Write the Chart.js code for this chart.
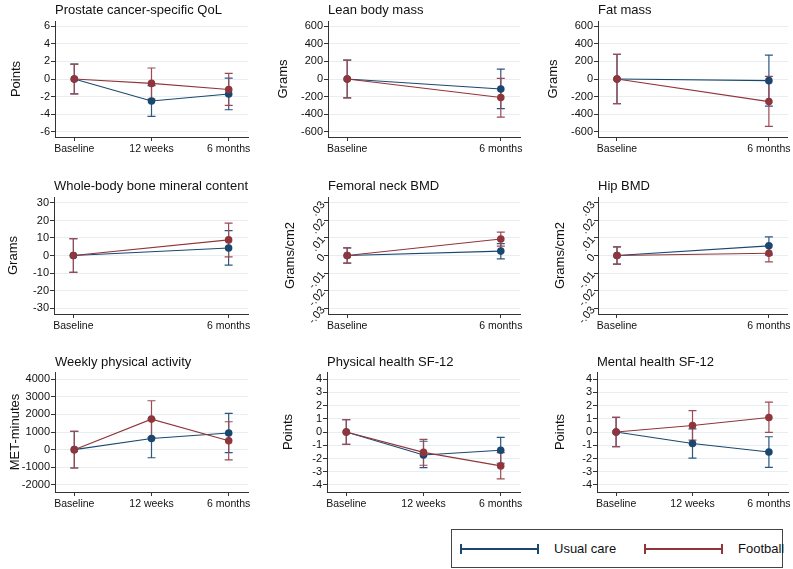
<!DOCTYPE html>
<html>
<head>
<meta charset="utf-8">
<script src="https://cdn.jsdelivr.net/npm/chart.js@4.4.0/dist/chart.umd.min.js"></script>
<style>
  body { margin: 0; background: #fff; font-family: "Liberation Sans", Arial, sans-serif; }
  #wrap { position: relative; width: 793px; height: 569px; overflow: hidden; }
  canvas { position: absolute; }
  .legend { position: absolute; left: 451px; top: 529px; width: 332px; height: 39px;
            border: 1px solid #444; box-sizing: border-box; }
  .sym { position: absolute; top: 18px; width: 79px; height: 0; border-top: 2px solid; }
  .sym::before, .sym::after { content: ""; position: absolute; top: -6px; width: 0; height: 10px; border-left: 2px solid; }
  .sym::before { left: 0; }
  .sym::after { right: 0; }
  .lab { position: absolute; top: 11px; font-size: 13px; color: #111; }
</style>
</head>
<body>
<div id="wrap">
  <canvas id="c1" width="263" height="175" style="left:0;top:0"></canvas>
  <canvas id="c2" width="263" height="175" style="left:265px;top:0"></canvas>
  <canvas id="c3" width="263" height="175" style="left:530px;top:0"></canvas>
  <canvas id="c4" width="263" height="175" style="left:0;top:175px"></canvas>
  <canvas id="c5" width="263" height="175" style="left:265px;top:175px"></canvas>
  <canvas id="c6" width="263" height="175" style="left:530px;top:175px"></canvas>
  <canvas id="c7" width="263" height="175" style="left:0;top:350px"></canvas>
  <canvas id="c8" width="263" height="175" style="left:265px;top:350px"></canvas>
  <canvas id="c9" width="263" height="175" style="left:530px;top:350px"></canvas>
  <div class="legend">
    <div class="sym" style="left:8px;color:#1a476f"></div>
    <div class="lab" style="left:102px">Usual care</div>
    <div class="sym" style="left:192px;color:#90353b"></div>
    <div class="lab" style="left:286px">Football</div>
  </div>
</div>
<script>
const timeLabels3 = ['Baseline', '12 weeks', '6 months'];
const timeLabels2 = ['Baseline', '6 months'];

// Prostate cancer-specific QoL
const qolUsual = [0, -2.5, -1.7];
const qolUsualLo = [-1.7, -4.25, -3.5];
const qolUsualHi = [1.7, -0.75, 0.1];
const qolFootball = [0, -0.5, -1.2];
const qolFootballLo = [-1.7, -2.3, -3.0];
const qolFootballHi = [1.7, 1.25, 0.65];

// Lean body mass
const leanUsual = [0, -113];
const leanUsualLo = [-215, -336];
const leanUsualHi = [215, 113];
const leanFootball = [0, -211];
const leanFootballLo = [-215, -434];
const leanFootballHi = [215, 8];

// Fat mass
const fatUsual = [0, -19];
const fatUsualLo = [-280, -309];
const fatUsualHi = [280, 272];
const fatFootball = [0, -257];
const fatFootballLo = [-280, -540];
const fatFootballHi = [280, 30];

// Whole-body bone mineral content
const bmcUsual = [0, 4.3];
const bmcUsualLo = [-9.6, -5.5];
const bmcUsualHi = [9.6, 14.2];
const bmcFootball = [0, 8.9];
const bmcFootballLo = [-9.6, -0.75];
const bmcFootballHi = [9.6, 18.5];

// Femoral neck BMD
const femUsual = [0, 0.0025];
const femUsualLo = [-0.0043, -0.0019];
const femUsualHi = [0.0043, 0.0068];
const femFootball = [0, 0.0094];
const femFootballLo = [-0.0043, 0.0053];
const femFootballHi = [0.0043, 0.0134];

// Hip BMD
const hipUsual = [0, 0.0055];
const hipUsualLo = [-0.0049, 0.0004];
const hipUsualHi = [0.0049, 0.0106];
const hipFootball = [0, 0.0013];
const hipFootballLo = [-0.0049, -0.0036];
const hipFootballHi = [0.0049, 0.006];

// Weekly physical activity
const paUsual = [0, 635, 940];
const paUsualLo = [-1040, -460, -170];
const paUsualHi = [1040, 1730, 2060];
const paFootball = [0, 1730, 500];
const paFootballLo = [-1040, 690, -580];
const paFootballHi = [1040, 2770, 1580];

// Physical health SF-12
const physUsual = [0, -1.74, -1.38];
const physUsualLo = [-0.93, -2.69, -2.36];
const physUsualHi = [0.93, -0.7, -0.41];
const physFootball = [0, -1.54, -2.56];
const physFootballLo = [-0.93, -2.51, -3.54];
const physFootballHi = [0.93, -0.56, -1.56];

// Mental health SF-12
const mentUsual = [0, -0.87, -1.51];
const mentUsualLo = [-1.1, -1.97, -2.67];
const mentUsualHi = [1.1, 0.23, -0.36];
const mentFootball = [0, 0.49, 1.1];
const mentFootballLo = [-1.1, -0.62, -0.03];
const mentFootballHi = [1.1, 1.62, 2.26];

// y tick values and labels
const ticksQol = [-6, -4, -2, 0, 2, 4, 6];
const ticksGrams = [-600, -400, -200, 0, 200, 400, 600];
const ticksBmc = [-30, -20, -10, 0, 10, 20, 30];
const ticksBmd = [-0.03, -0.02, -0.01, 0, 0.01, 0.02, 0.03];
const tickLabelsBmd = ['-.03', '-.02', '-.01', '0', '.01', '.02', '.03'];
const ticksPa = [-2000, -1000, 0, 1000, 2000, 3000, 4000];
const ticksSf = [-4, -3, -2, -1, 0, 1, 2, 3, 4];

const blue = '#1a476f';
const red = '#90353b';
const font = '"Liberation Sans", Arial, sans-serif';

// draws the confidence interval caps through the chart scales
const errorBars = {
  id: 'errorBars',
  beforeDatasetsDraw(chart) {
    const ctx = chart.ctx;
    const xs = chart.scales.x, ys = chart.scales.y;
    chart.data.datasets.forEach(ds => {
      ctx.save();
      ctx.strokeStyle = ds.barColor;
      ctx.lineWidth = 1.2;
      ds.data.forEach((pt, i) => {
        const x = xs.getPixelForValue(pt.x);
        const y1 = ys.getPixelForValue(ds.lo[i]);
        const y2 = ys.getPixelForValue(ds.hi[i]);
        ctx.beginPath();
        ctx.moveTo(x, y1); ctx.lineTo(x, y2);
        ctx.moveTo(x - 4, y1); ctx.lineTo(x + 4, y1);
        ctx.moveTo(x - 4, y2); ctx.lineTo(x + 4, y2);
        ctx.stroke();
      });
      ctx.restore();
    });
  }
};

// per row: title padding and bottom padding
const rows = [
  { tTop: 2.2, tBot: 3.2, bottom: 18 },
  { tTop: 3.2, tBot: 3.2, bottom: 16 },
  { tTop: 4.2, tBot: 2.2, bottom: 13 }
];

function panel(id, row, title, yTitle, labels, usual, uLo, uHi, foot, fLo, fHi,
               yMin, yMax, yTicks, yLabels, axisX, right, yTitleX, rot) {
  const n = labels.length;
  const off = n === 3 ? 0.25 : 0.125;
  const padLeft = yTitleX - 7.8;
  const r = rows[row];
  new Chart(document.getElementById(id), {
    type: 'line',
    data: {
      datasets: [
        { label: 'Usual care', data: usual.map((v, i) => ({ x: i, y: v })), lo: uLo, hi: uHi,
          borderColor: blue, backgroundColor: blue, barColor: '#2f5680', borderWidth: 1.1,
          pointRadius: 3.8, pointBorderWidth: 0, order: 1 },
        { label: 'Football', data: foot.map((v, i) => ({ x: i, y: v })), lo: fLo, hi: fHi,
          borderColor: red, backgroundColor: red, barColor: '#9c4a55', borderWidth: 1.1,
          pointRadius: 3.8, pointBorderWidth: 0, order: 0 }
      ]
    },
    options: {
      responsive: false,
      animation: false,
      devicePixelRatio: 1,
      layout: { padding: { left: padLeft, right: 263 - right, top: 0, bottom: r.bottom } },
      plugins: {
        legend: { display: false },
        tooltip: { enabled: false },
        title: { display: true, text: title, align: 'start', fullSize: false, color: '#111',
                 font: { family: font, size: 13, weight: 'normal' },
                 padding: { top: r.tTop, bottom: r.tBot } }
      },
      scales: {
        x: {
          type: 'linear', min: -off, max: n - 1 + off,
          afterBuildTicks: s => { s.ticks = labels.map((l, i) => ({ value: i })); },
          afterFit: s => { s.height = 20; },
          ticks: { autoSkip: false, maxRotation: 0, padding: 2, color: '#111',
                   font: { family: font, size: 10.5 }, callback: v => labels[v] },
          grid: { drawOnChartArea: false, tickLength: 4, tickColor: '#333' },
          border: { color: '#333', width: 1 }
        },
        y: {
          min: yMin, max: yMax,
          afterBuildTicks: s => { s.ticks = yTicks.map(v => ({ value: v })); },
          afterFit: s => { s.width = axisX - padLeft; },
          ticks: { autoSkip: false, padding: 1, color: '#111', minRotation: rot, maxRotation: rot,
                   font: { family: font, size: 11 },
                   callback: (v, i) => yLabels[i] },
          grid: { color: '#e6eef1', tickLength: 4, tickColor: '#333' },
          border: { color: '#333', width: 1 },
          title: { display: true, text: yTitle, color: '#111', padding: 0,
                   font: { family: font, size: 13 } }
        }
      }
    },
    plugins: [errorBars]
  });
}

panel('c1', 0, 'Prostate cancer-specific QoL', 'Points', timeLabels3,
  qolUsual, qolUsualLo, qolUsualHi, qolFootball, qolFootballLo, qolFootballHi,
  -6.6, 6.6, ticksQol, ticksQol.map(String), 55, 248, 16, 0);
panel('c2', 0, 'Lean body mass', 'Grams', timeLabels2,
  leanUsual, leanUsualLo, leanUsualHi, leanFootball, leanFootballLo, leanFootballHi,
  -660, 660, ticksGrams, ticksGrams.map(String), 63, 255, 18, 0);
panel('c3', 0, 'Fat mass', 'Grams', timeLabels2,
  fatUsual, fatUsualLo, fatUsualHi, fatFootball, fatFootballLo, fatFootballHi,
  -660, 660, ticksGrams, ticksGrams.map(String), 68, 260, 23, 0);
panel('c4', 1, 'Whole-body bone mineral content', 'Grams', timeLabels2,
  bmcUsual, bmcUsualLo, bmcUsualHi, bmcFootball, bmcFootballLo, bmcFootballHi,
  -33.4, 33.4, ticksBmc, ticksBmc.map(String), 54, 248, 13, 0);
panel('c5', 1, 'Femoral neck BMD', 'Grams/cm2', timeLabels2,
  femUsual, femUsualLo, femUsualHi, femFootball, femFootballLo, femFootballHi,
  -0.0334, 0.0334, ticksBmd, tickLabelsBmd, 63, 255, 25, 50);
panel('c6', 1, 'Hip BMD', 'Grams/cm2', timeLabels2,
  hipUsual, hipUsualLo, hipUsualHi, hipFootball, hipFootballLo, hipFootballHi,
  -0.0334, 0.0334, ticksBmd, tickLabelsBmd, 68, 260, 30, 50);
panel('c7', 2, 'Weekly physical activity', 'MET-minutes', timeLabels3,
  paUsual, paUsualLo, paUsualHi, paFootball, paFootballLo, paFootballHi,
  -2400, 4400, ticksPa, ticksPa.map(String), 55, 248, 15, 0);
panel('c8', 2, 'Physical health SF-12', 'Points', timeLabels3,
  physUsual, physUsualLo, physUsualHi, physFootball, physFootballLo, physFootballHi,
  -4.53, 4.53, ticksSf, ticksSf.map(String), 62, 255, 23, 0);
panel('c9', 2, 'Mental health SF-12', 'Points', timeLabels3,
  mentUsual, mentUsualLo, mentUsualHi, mentFootball, mentFootballLo, mentFootballHi,
  -4.53, 4.53, ticksSf, ticksSf.map(String), 67, 258, 30, 0);
</script>
</body>
</html>
